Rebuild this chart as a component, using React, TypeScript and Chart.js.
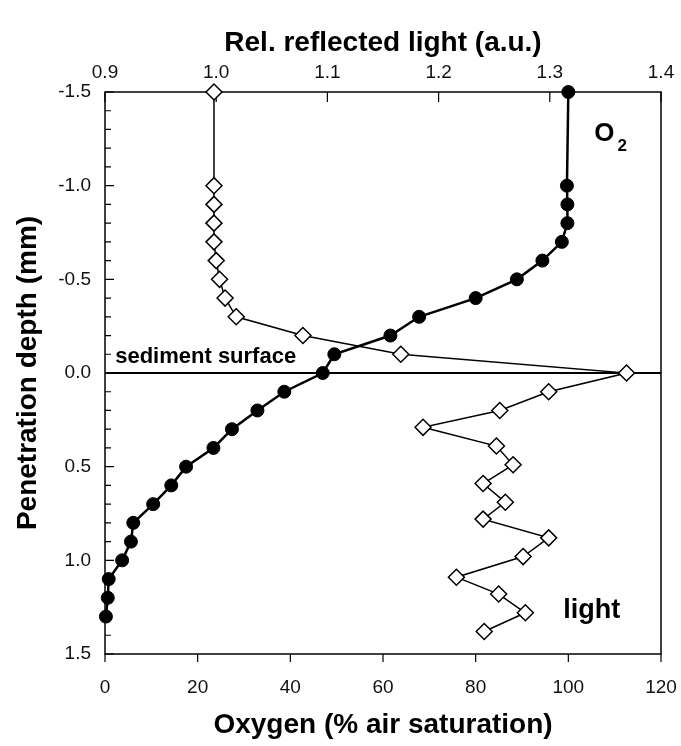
import React, { useEffect, useRef } from 'react';
import { Chart, registerables } from 'chart.js';

Chart.register(...registerables);

// ---- data ----
const o2Depth = [-1.5, -1.0, -0.9, -0.8, -0.7, -0.6, -0.5, -0.4, -0.3, -0.2, -0.1, 0.0, 0.1, 0.2, 0.3, 0.4, 0.5, 0.6, 0.7, 0.8, 0.9, 1.0, 1.1, 1.2, 1.3];
const o2Values = [100.0, 99.7, 99.8, 99.8, 98.6, 94.4, 88.9, 80.0, 67.8, 61.6, 49.5, 47.0, 38.7, 32.9, 27.4, 23.4, 17.5, 14.3, 10.4, 6.1, 5.6, 3.7, 0.8, 0.6, 0.2];

const lightDepth = [-1.5, -1.0, -0.9, -0.8, -0.7, -0.6, -0.5, -0.4, -0.3, -0.2, -0.1, 0.0, 0.1, 0.2, 0.29, 0.39, 0.49, 0.59, 0.69, 0.78, 0.88, 0.98, 1.09, 1.18, 1.28, 1.38];
const lightValues = [0.998, 0.998, 0.998, 0.998, 0.998, 1.0, 1.003, 1.008, 1.018, 1.078, 1.166, 1.369, 1.299, 1.255, 1.186, 1.252, 1.267, 1.24, 1.26, 1.24, 1.299, 1.276, 1.216, 1.254, 1.278, 1.241];

const surfaceX = [0, 120];
const surfaceDepth = [0, 0];

const oxygenTicks = [0, 20, 40, 60, 80, 100, 120];
const lightTicks = [0.9, 1.0, 1.1, 1.2, 1.3, 1.4];
const depthTicks = [-1.5, -1.0, -0.5, 0.0, 0.5, 1.0, 1.5];

const FONT = "'Liberation Sans', Arial, Helvetica, sans-serif";

const framePlugin = {
  id: 'frameTicks',
  beforeDatasetsDraw(chart: any) {
    const { ctx, chartArea } = chart;
    const { left, right, top, bottom } = chartArea;
    const y = chart.scales.y;
    const x = chart.scales.x;
    const x2 = chart.scales.x2;
    ctx.save();
    ctx.strokeStyle = '#000';
    ctx.lineWidth = 1.5;
    ctx.strokeRect(left, top, right - left, bottom - top);
    ctx.lineWidth = 1.2;
    ctx.beginPath();
    for (let i = -15; i <= 15; i++) {
      const py = y.getPixelForValue(i / 10);
      const len = i % 5 === 0 ? 9 : 6;
      ctx.moveTo(left, py);
      ctx.lineTo(left + len, py);
    }
    for (const v of lightTicks) {
      const px = x2.getPixelForValue(v);
      ctx.moveTo(px, top);
      ctx.lineTo(px, top + 10);
    }
    for (const v of oxygenTicks) {
      const px = x.getPixelForValue(v);
      ctx.moveTo(px, bottom);
      ctx.lineTo(px, bottom + 8);
    }
    ctx.stroke();
    ctx.restore();
  },
  afterDatasetsDraw(chart: any) {
    const { ctx } = chart;
    const y = chart.scales.y;
    const x = chart.scales.x;
    ctx.save();
    ctx.fillStyle = '#000';
    ctx.textBaseline = 'alphabetic';
    ctx.textAlign = 'left';
    ctx.font = `bold 22px ${FONT}`;
    ctx.fillText('sediment surface', x.getPixelForValue(2.2), y.getPixelForValue(-0.054));
    ctx.font = `bold 26px ${FONT}`;
    ctx.fillText('O', x.getPixelForValue(105.6), y.getPixelForValue(-1.237));
    ctx.font = `bold 17px ${FONT}`;
    ctx.fillText('2', x.getPixelForValue(110.6), y.getPixelForValue(-1.184));
    ctx.font = `bold 27px ${FONT}`;
    ctx.fillText('light', x.getPixelForValue(98.9), y.getPixelForValue(1.307));
    ctx.restore();
  },
};

export default function App() {
  const ref = useRef<HTMLCanvasElement | null>(null);

  useEffect(() => {
    if (!ref.current) return;
    const tickFont = { family: FONT, size: 19 };
    const titleFont = { family: FONT, size: 28, weight: 'bold' as const };
    const chart = new Chart(ref.current, {
      type: 'scatter',
      data: {
        datasets: [
          {
            label: 'O2',
            data: o2Depth.map((d, i) => ({ x: o2Values[i], y: d })),
            xAxisID: 'x',
            yAxisID: 'y',
            showLine: true,
            borderColor: '#000',
            borderWidth: 2.5,
            pointStyle: 'circle',
            pointRadius: 6.5,
            pointBackgroundColor: '#000',
            pointBorderColor: '#000',
            pointBorderWidth: 1,
            clip: false as any,
          },
          {
            label: 'light',
            data: lightDepth.map((d, i) => ({ x: lightValues[i], y: d })),
            xAxisID: 'x2',
            yAxisID: 'y',
            showLine: true,
            borderColor: '#000',
            borderWidth: 1.5,
            pointStyle: 'rectRot',
            pointRadius: 8,
            pointBackgroundColor: '#fff',
            pointBorderColor: '#000',
            pointBorderWidth: 1.5,
            clip: false as any,
          },
          {
            label: 'surface',
            data: surfaceX.map((v, i) => ({ x: v, y: surfaceDepth[i] })),
            xAxisID: 'x',
            yAxisID: 'y',
            showLine: true,
            borderColor: '#000',
            borderWidth: 2,
            pointRadius: 0,
          },
        ],
      },
      options: {
        responsive: false,
        animation: false,
        events: [],
        layout: { padding: { left: 0, right: 20, top: 0, bottom: 0 } },
        plugins: {
          legend: { display: false },
          tooltip: { enabled: false },
        },
        scales: {
          x: {
            type: 'linear',
            position: 'bottom',
            min: 0,
            max: 120,
            afterBuildTicks: (s: any) => {
              s.ticks = oxygenTicks.map((v) => ({ value: v }));
            },
            ticks: { font: tickFont, color: '#111', padding: 22, maxRotation: 0, autoSkip: false },
            grid: { display: false, drawTicks: false },
            border: { display: false },
            title: {
              display: true,
              text: 'Oxygen (% air saturation)',
              font: titleFont,
              color: '#000',
              padding: { top: 0, bottom: 4 },
            },
            afterFit: (s: any) => {
              s.height = 92;
              s.paddingLeft = 0;
              s.paddingRight = 0;
            },
          },
          x2: {
            type: 'linear',
            position: 'top',
            min: 0.9,
            max: 1.4,
            afterBuildTicks: (s: any) => {
              s.ticks = lightTicks.map((v) => ({ value: v }));
            },
            ticks: {
              font: tickFont,
              color: '#111',
              padding: 8,
              maxRotation: 0,
              autoSkip: false,
              callback: (v: any) => Number(v).toFixed(1),
            },
            grid: { display: false, drawTicks: false },
            border: { display: false },
            title: {
              display: true,
              text: 'Rel. reflected light (a.u.)',
              font: titleFont,
              color: '#000',
              padding: { top: 26, bottom: 0 },
            },
            afterFit: (s: any) => {
              s.height = 92;
              s.paddingLeft = 0;
              s.paddingRight = 0;
            },
          },
          y: {
            type: 'linear',
            position: 'left',
            min: -1.5,
            max: 1.5,
            reverse: true,
            afterBuildTicks: (s: any) => {
              s.ticks = depthTicks.map((v) => ({ value: v }));
            },
            ticks: {
              font: tickFont,
              color: '#111',
              padding: 14,
              autoSkip: false,
              callback: (v: any) => Number(v).toFixed(1),
            },
            grid: { display: false, drawTicks: false },
            border: { display: false },
            title: {
              display: true,
              text: 'Penetration depth (mm)',
              font: titleFont,
              color: '#000',
              padding: { top: 11, bottom: 0 },
            },
            afterFit: (s: any) => {
              s.width = 105;
              s.paddingTop = 0;
              s.paddingBottom = 0;
            },
          },
        },
      },
      plugins: [framePlugin],
    } as any);
    return () => chart.destroy();
  }, []);

  return (
    <div style={{ position: 'absolute', left: 0, top: 0, width: 681, height: 746, background: '#fff' }}>
      <canvas ref={ref} width={681} height={746} style={{ display: 'block' }} />
    </div>
  );
}
